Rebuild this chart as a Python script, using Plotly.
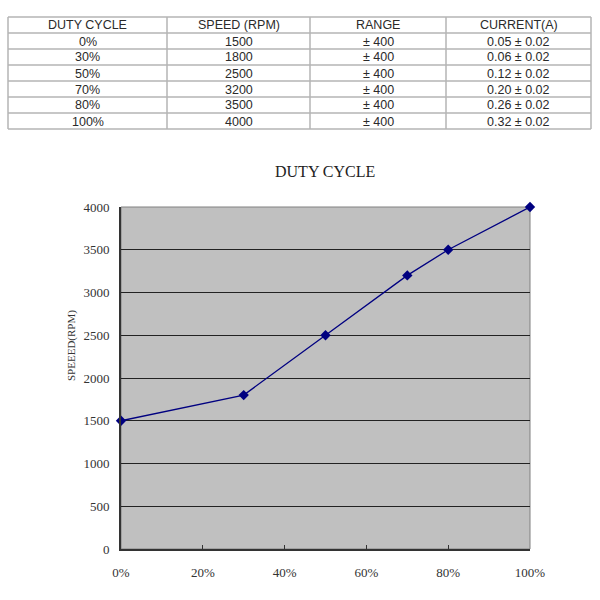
import plotly.graph_objects as go

duty_labels = ["0%", "30%", "50%", "70%", "80%", "100%"]
duty = [0, 30, 50, 70, 80, 100]
speed = [1500, 1800, 2500, 3200, 3500, 4000]
range_txt = ["± 400"] * 6
current_txt = ["0.05 ± 0.02", "0.06 ± 0.02", "0.12 ± 0.02", "0.20 ± 0.02", "0.26 ± 0.02", "0.32 ± 0.02"]
headers = ["DUTY CYCLE", "SPEED (RPM)", "RANGE", "CURRENT(A)"]
y_ticks = [0, 500, 1000, 1500, 2000, 2500, 3000, 3500, 4000]
x_ticks = [0, 20, 40, 60, 80, 100]

W = H = 600
serif = "Liberation Serif, Times New Roman, serif"
sans = "Liberation Sans, Arial, sans-serif"

# ---- table layout (pixels) ----
col_edges = [8, 167, 310, 446, 591]
tbl_top, row_h = 17, 16
table_rows = [headers] + [list(r) for r in zip(duty_labels, [str(s) for s in speed], range_txt, current_txt)]
n_rows = len(table_rows)

def px(x):
    return x / W

def py(y):
    return 1 - y / H

shapes = []
annotations = []
line_style = dict(color="#b4b4b4", width=1.5)
for i in range(n_rows + 1):
    y = tbl_top + i * row_h
    shapes.append(dict(type="line", xref="paper", yref="paper", x0=px(col_edges[0]), x1=px(col_edges[-1]),
                       y0=py(y), y1=py(y), line=line_style))
for xe in col_edges:
    shapes.append(dict(type="line", xref="paper", yref="paper", x0=px(xe), x1=px(xe),
                       y0=py(tbl_top), y1=py(tbl_top + n_rows * row_h), line=line_style))
for r, row in enumerate(table_rows):
    yc = tbl_top + r * row_h + row_h / 2 + 0.5
    for c, txt in enumerate(row):
        xc = (col_edges[c] + col_edges[c + 1]) / 2
        annotations.append(dict(text=txt, x=px(xc), y=py(yc), xref="paper", yref="paper",
                                showarrow=False, xanchor="center", yanchor="middle",
                                font=dict(family=sans, size=12.5, color="#2a2a2a")))

# ---- chart ----
pl, pr, pt, pb = 121, 530, 207, 549
shapes.append(dict(type="rect", xref="paper", yref="paper", x0=px(pl), x1=px(pr), y0=py(pb), y1=py(pt),
                   line=dict(color="#808080", width=1), layer="below"))
annotations.append(dict(text="DUTY CYCLE", x=px(325), y=py(172), xref="paper", yref="paper",
                        showarrow=False, xanchor="center", yanchor="middle",
                        font=dict(family=serif, size=16, color="#222")))
annotations.append(dict(text="SPEEED(RPM)", x=px(71), y=py(346), xref="paper", yref="paper",
                        showarrow=False, xanchor="center", yanchor="middle", textangle=-90,
                        font=dict(family=serif, size=11, color="#333")))

fig = go.Figure()
fig.add_trace(go.Scatter(
    x=duty, y=speed, mode="lines+markers",
    line=dict(color="#000080", width=1.3),
    marker=dict(symbol="diamond", size=8, color="#000080"),
    cliponaxis=False, showlegend=False,
))

fig.update_layout(
    width=W, height=H, margin=dict(l=0, r=0, t=0, b=0, autoexpand=False),
    paper_bgcolor="white", plot_bgcolor="#c0c0c0",
    showlegend=False,
    xaxis=dict(domain=[px(pl), px(pr)], range=[0, 100], tickvals=x_ticks, automargin=False,
               ticktext=[f"{v}%" for v in x_ticks], showgrid=False, zeroline=False,
               showline=True, linecolor="#333", linewidth=2,
               ticks="inside", ticklen=4, tickcolor="#333", ticklabelstandoff=10,
               tickfont=dict(family=serif, size=13, color="#333")),
    yaxis=dict(domain=[py(pb), py(pt)], range=[0, 4000], tickvals=y_ticks, automargin=False,
               showgrid=True, gridcolor="#222", gridwidth=1, zeroline=False,
               showline=True, linecolor="#333", linewidth=2, ticklabelstandoff=7,
               ticks="", tickfont=dict(family=serif, size=13, color="#333")),
    shapes=shapes,
    annotations=annotations,
)

fig.write_html("out.html", config={"displayModeBar": False},
               post_script="document.body.style.margin='0';")
